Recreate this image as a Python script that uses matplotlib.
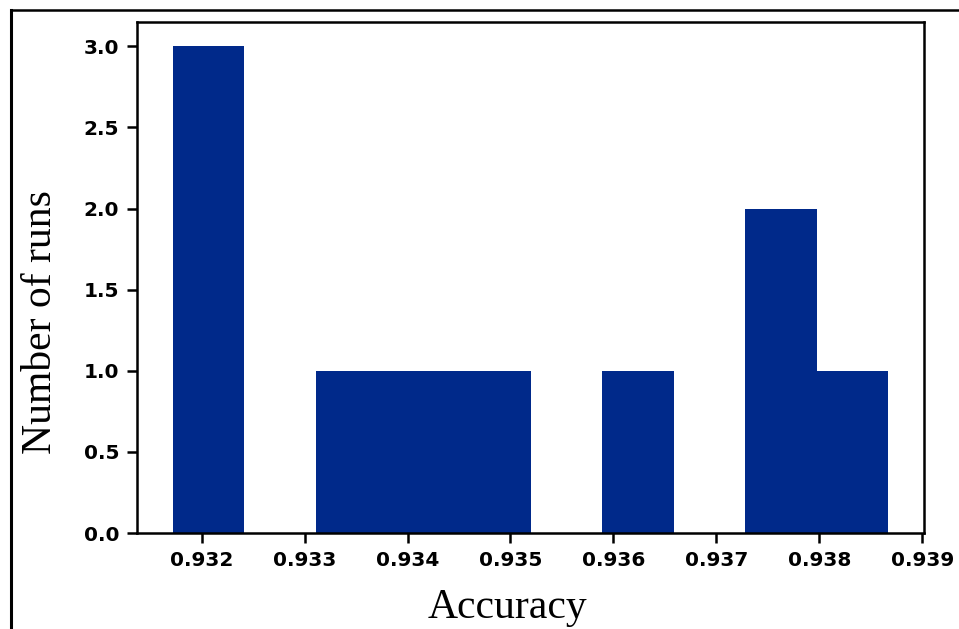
import numpy as np
import matplotlib
matplotlib.use("Agg")
import matplotlib.pyplot as plt
from matplotlib.lines import Line2D

# accuracy of each training run
accuracy = [0.93172, 0.93185, 0.93205,
            0.93345,
            0.93412,
            0.93478,
            0.93621,
            0.93752, 0.93771,
            0.93867]
nbins = 10

fig = plt.figure(figsize=(9.59, 6.29), dpi=100)
ax = fig.add_axes([0.143, 0.1526, 0.8205, 0.8124])

ax.hist(accuracy, bins=nbins, color="#00298a", linewidth=0)

ticks = np.arange(0.932, 0.9391, 0.001)
ax.set_yticks(np.arange(0, 3.01, 0.5))
ax.set_xticks(ticks)
ax.set_xticklabels(["%.3f" % t for t in ticks])
ax.tick_params(labelsize=14.5, width=1.8, length=7, pad=6)
for lbl in ax.get_xticklabels() + ax.get_yticklabels():
    lbl.set_fontweight("bold")
for s in ax.spines.values():
    s.set_linewidth(1.8)

ax.set_xlabel("Accuracy", family="Liberation Serif", fontsize=30)
ax.set_ylabel("Number of runs", family="Liberation Serif", fontsize=30)
ax.xaxis.set_label_coords(0.47, -0.108)
ax.yaxis.set_label_coords(-0.098, 0.413)

# frame lines along the top and left of the figure
fig.add_artist(Line2D([0.0115, 1.0], [1 - 9.5 / 629, 1 - 9.5 / 629], color="black", lw=1.8))
fig.add_artist(Line2D([0.0115, 0.0115], [0.0, 1 - 9.5 / 629], color="black", lw=2.2))

fig.savefig("out.png", dpi=100)
